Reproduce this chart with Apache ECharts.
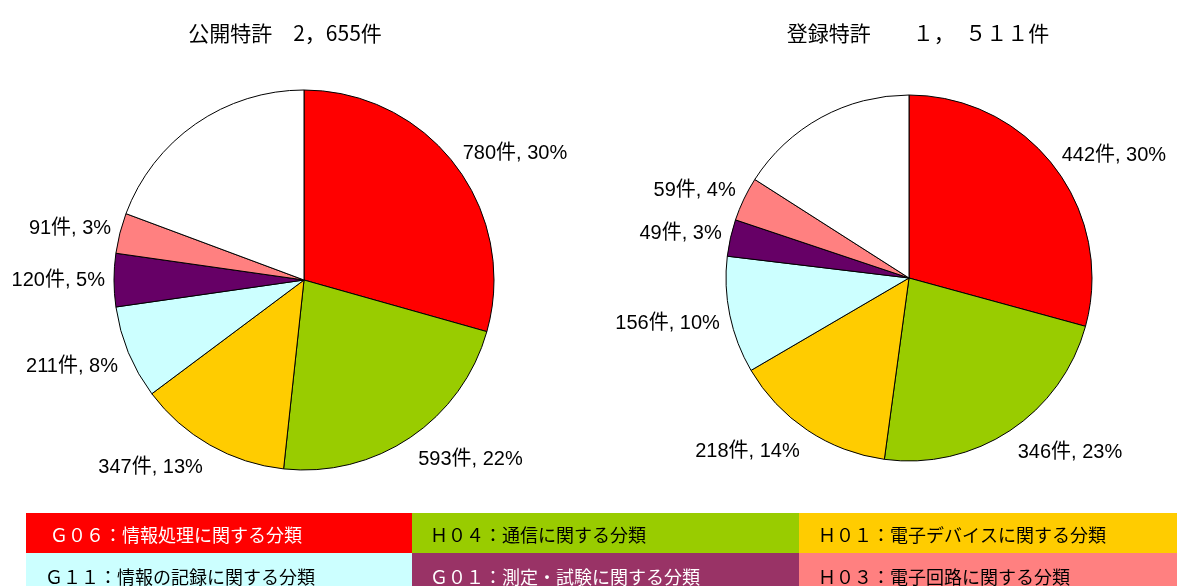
<!DOCTYPE html>
<html><head><meta charset="utf-8">
<script src="https://cdn.jsdelivr.net/npm/echarts@6/dist/echarts.min.js"></script>
<style>html,body{margin:0;padding:0;background:#fff}#c{width:1177px;height:586px}</style>
</head><body><div id="c"></div>
<script>
// ---- data ----
const categories = ['G06', 'H04', 'H01', 'G11', 'G01', 'H03', 'その他'];
const sliceColors = ['#FF0000', '#99CC00', '#FFCC00', '#CCFFFF', '#660066', '#FF8080', '#FFFFFF'];
const pubValues = [780, 593, 347, 211, 120, 91, 513];
const pubPercents = [30, 22, 13, 8, 5, 3, null];
const regValues = [442, 346, 218, 156, 49, 59, 241];
const regPercents = [30, 23, 14, 10, 3, 4, null];
const pubTitle = '公開特許　2，655件';
const regTitle = '登録特許　　１，　５１１件';
const legendLabels = [
  'Ｇ０６：情報処理に関する分類', 'Ｈ０４：通信に関する分類', 'Ｈ０１：電子デバイスに関する分類',
  'Ｇ１１：情報の記録に関する分類', 'Ｇ０１：測定・試験に関する分類', 'Ｈ０３：電子回路に関する分類'
];
const legendColors = ['#FF0000', '#99CC00', '#FFCC00', '#CCFFFF', '#993366', '#FF8080'];
const legendTextColors = ['#FFFFFF', '#000000', '#000000', '#000000', '#FFFFFF', '#000000'];

const FONT = '"Liberation Sans", "Noto Sans CJK JP", sans-serif';
const JP = '"Noto Sans CJK JP", sans-serif';

const pies = [
  { center: [304, 280], radius: 190, values: pubValues, percents: pubPercents },
  { center: [909, 278], radius: 183, values: regValues, percents: regPercents }
];

// mid-angle direction of each slice (start at top, clockwise)
function midDirs(values) {
  const total = values.reduce((a, b) => a + b, 0);
  let cum = 0;
  return values.map(v => {
    const a = (cum + v / 2) / total * 2 * Math.PI;
    cum += v;
    return [Math.sin(a), -Math.cos(a)];
  });
}
pies.forEach(p => { p.dirs = midDirs(p.values); });

function clamp(v) { return Math.max(-1, Math.min(1, v)); }

function makeLayout(pi) {
  const p = pies[pi];
  return function (params) {
    const d = p.dirs[params.dataIndex];
    const w = params.labelRect.width, h = params.labelRect.height;
    const k = 9 + 6 * Math.max(0, d[1]);
    const px = p.center[0] + d[0] * (p.radius + k);
    const py = p.center[1] + d[1] * (p.radius + k);
    const oy = d[1] < 0 ? d[1] * h / 2 : clamp(d[1] * 3) * h / 2;
    return {
      x: px + clamp(d[0] * 3) * w / 2,
      y: py + oy,
      align: 'center',
      verticalAlign: 'middle'
    };
  };
}

function buildData(values, percents) {
  return values.map((v, i) => ({
    name: categories[i],
    value: v,
    pct: percents[i],
    itemStyle: { color: sliceColors[i] },
    label: { show: percents[i] !== null }
  }));
}

function pieSeries(pi) {
  const p = pies[pi];
  return {
    type: 'pie',
    center: p.center,
    radius: p.radius,
    startAngle: 90,
    clockwise: true,
    animation: false,
    silent: true,
    avoidLabelOverlap: false,
    itemStyle: { borderColor: '#000', borderWidth: 1 },
    label: {
      show: true,
      position: 'outside',
      alignTo: 'none',
      overflow: 'none',
      color: '#000',
      fontSize: 20,
      fontFamily: FONT,
      formatter: q => q.value + '件, ' + q.data.pct + '%'
    },
    labelLine: { show: false },
    labelLayout: makeLayout(pi),
    data: buildData(p.values, p.percents)
  };
}

const chart = echarts.init(document.getElementById('c'), null, { renderer: 'canvas' });

const graphics = [];
const colX = [26, 412, 799];
const colW = [386, 387, 378];
const rowY = [513, 553];
const rowH = [40, 33];
const textX = [[50, 430, 818], [45, 430, 818]];
const textY = [535, 577];
legendLabels.forEach((lab, i) => {
  const r = Math.floor(i / 3), c = i % 3;
  graphics.push({
    type: 'rect',
    shape: { x: colX[c], y: rowY[r], width: colW[c], height: rowH[r] },
    style: { fill: legendColors[i] },
    silent: true
  });
  graphics.push({
    type: 'text',
    x: textX[r][c],
    y: textY[r],
    style: {
      text: lab, fill: legendTextColors[i], fontSize: 18,
      fontFamily: JP, verticalAlign: 'middle'
    },
    silent: true
  });
});

chart.setOption({
  backgroundColor: '#fff',
  title: [
    { text: pubTitle, left: 280, top: 18, textAlign: 'center',
      textStyle: { fontSize: 21, fontWeight: 'normal', color: '#000', fontFamily: JP } },
    { text: regTitle, left: 913, top: 18, textAlign: 'center',
      textStyle: { fontSize: 21, fontWeight: 'normal', color: '#000', fontFamily: JP } }
  ],
  series: [pieSeries(0), pieSeries(1)],
  graphic: graphics
});
</script></body></html>
